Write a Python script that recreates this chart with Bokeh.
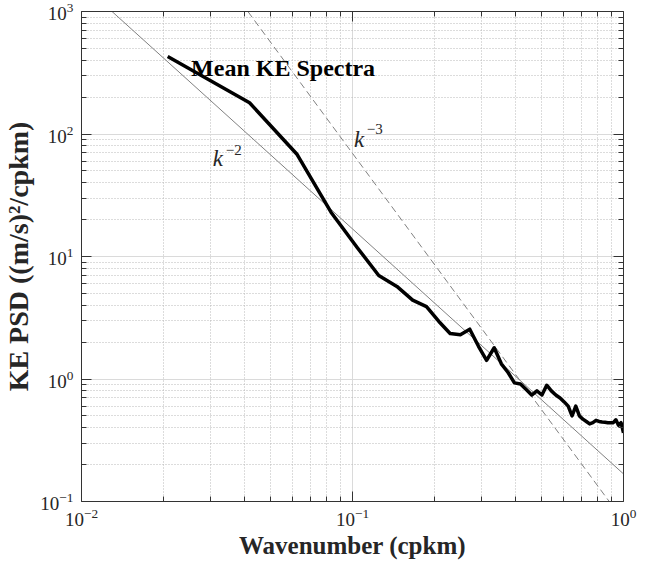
from bokeh.plotting import figure
from bokeh.models import LogAxis, Label, FixedTicker, Range1d
from bokeh.embed import file_html
from bokeh.resources import INLINE

# ---------------- data ----------------
wavenumber = [0.0208, 0.0417, 0.0625, 0.0833, 0.1042, 0.1250, 0.1458, 0.1667,
              0.1875, 0.2083, 0.2292, 0.2500, 0.2708, 0.2917, 0.3125, 0.3333,
              0.3542, 0.3750, 0.3958, 0.4167, 0.4375, 0.4583, 0.4792, 0.5000,
              0.5208, 0.5417, 0.5625, 0.5833, 0.6042, 0.6250, 0.6458, 0.6667,
              0.6875, 0.7083, 0.7292, 0.7500, 0.7708, 0.7917, 0.8125, 0.8333,
              0.8542, 0.8750, 0.8958, 0.9167, 0.9375, 0.9583, 0.9792, 1.0000]
ke_psd = [430.0, 180.0, 68.0, 23.0, 11.8, 7.0, 5.7, 4.4,
          3.9, 2.95, 2.35, 2.30, 2.55, 1.85, 1.42, 1.80,
          1.33, 1.13, 0.93, 0.91, 0.82, 0.74, 0.80, 0.74,
          0.89, 0.80, 0.74, 0.70, 0.65, 0.60, 0.50, 0.60,
          0.50, 0.47, 0.45, 0.43, 0.44, 0.46, 0.45, 0.445,
          0.444, 0.44, 0.44, 0.44, 0.465, 0.42, 0.44, 0.363]

# reference power laws  k^-2  and  k^-3  (end points)
k2_line_k = [0.01, 1.0]
k2_line_psd = [1680.0, 0.168]
k3_line_k = [0.02, 1.0]
k3_line_psd = [8690.0, 0.0695]

x_major_ticks = [0.01, 0.1, 1.0]
y_major_ticks = [0.1, 1.0, 10.0, 100.0, 1000.0]
x_minor_ticks = [m * t for t in x_major_ticks[:-1] for m in range(2, 10)]
y_minor_ticks = [m * t for t in y_major_ticks[:-1] for m in range(2, 10)]

title_text = "Mean KE Spectra"
x_label = "Wavenumber (cpkm)"
y_label = "KE PSD ((m/s)\u00b2/cpkm)"

SERIF = "Liberation Serif"
AXC = "#333333"

p = figure(width=638, height=561, x_axis_type="log", y_axis_type="log",
           x_range=Range1d(0.01, 1.0), y_range=Range1d(0.1, 1000.0),
           output_backend="svg", toolbar_location=None,
           min_border_left=74, min_border_right=15,
           min_border_top=11, min_border_bottom=56)
p.outline_line_color = None
p.background_fill_color = "white"
p.border_fill_color = "white"


def style_axis(ax, labels=True):
    ax.axis_line_color = AXC
    ax.axis_line_width = 1
    ax.major_tick_in = 10
    ax.major_tick_out = 0
    ax.minor_tick_in = 5
    ax.minor_tick_out = 0
    ax.major_tick_line_color = AXC
    ax.minor_tick_line_color = AXC
    if labels:
        ax.major_label_text_font = SERIF
        ax.major_label_text_font_size = "19px"
        ax.major_label_text_color = "#262626"
        ax.axis_label_text_font = SERIF
        ax.axis_label_text_font_style = "bold"
        ax.axis_label_text_font_size = "25px"
        ax.axis_label_text_color = "#262626"
    else:
        ax.major_label_text_font_size = "1px"
        ax.major_label_text_alpha = 0
        ax.major_label_standoff = 0


xt = FixedTicker(ticks=x_major_ticks, minor_ticks=x_minor_ticks)
yt = FixedTicker(ticks=y_major_ticks, minor_ticks=y_minor_ticks)

xa = p.xaxis[0]
ya = p.yaxis[0]
xa.ticker = xt
ya.ticker = yt
style_axis(xa)
style_axis(ya)
xa.axis_label = x_label
ya.axis_label = y_label
ya.axis_label_text_font_size = "28px"
xa.major_label_standoff = 7
xa.axis_label_standoff = 3
ya.major_label_standoff = 8
ya.axis_label_standoff = 3

top = LogAxis(ticker=FixedTicker(ticks=x_major_ticks, minor_ticks=x_minor_ticks))
right = LogAxis(ticker=FixedTicker(ticks=y_major_ticks, minor_ticks=y_minor_ticks))
style_axis(top, labels=False)
style_axis(right, labels=False)
p.add_layout(top, "above")
p.add_layout(right, "right")

for g in (p.xgrid, p.ygrid):
    g.grid_line_color = "#dadada"
    g.grid_line_width = 1
    g.minor_grid_line_color = "#b8b8b8"
    g.minor_grid_line_dash = "1 2"
    g.minor_grid_line_width = 1
p.xgrid.ticker = xt
p.ygrid.ticker = yt

p.line(k2_line_k, k2_line_psd, line_color="#808080", line_width=1)
p.line(k3_line_k, k3_line_psd, line_color="#808080", line_width=1, line_dash="7 4")
p.line(wavenumber, ke_psd, line_color="black", line_width=3.5, line_join="round")

p.add_layout(Label(x=0.02538, y=347, text=title_text, text_font=SERIF,
                   text_font_style="bold", text_font_size="24px",
                   text_color="black", text_baseline="alphabetic"))

for kx, ky, sx, sy, sup in [(0.03051, 63.6, 0.03404, 73.8, "\u22122"),
                            (0.1013, 90.6, 0.1129, 109.0, "\u22123")]:
    p.add_layout(Label(x=kx, y=ky, text="k", text_font=SERIF,
                       text_font_style="italic", text_font_size="23px",
                       text_color="#262626", text_baseline="alphabetic"))
    p.add_layout(Label(x=sx, y=sy, text=sup, text_font=SERIF,
                       text_font_size="15px", text_color="#262626",
                       text_baseline="alphabetic"))

open("out.html", "w").write(file_html(p, INLINE))
